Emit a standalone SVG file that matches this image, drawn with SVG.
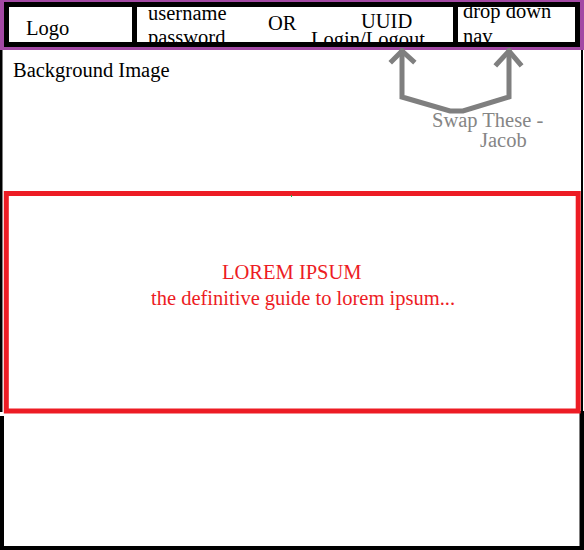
<svg xmlns="http://www.w3.org/2000/svg" width="584" height="550" viewBox="0 0 584 550">
<style>
  text { font-family: "Liberation Serif", "Times New Roman", serif; font-size: 20.5px; }
  .blk { fill: #000; }
  .gray { fill: #858585; }
  .red { fill: #ed1c24; }
  .cell { fill: #fff; }
  .arrow { fill: none; stroke: #7f7f7f; stroke-width: 5; stroke-linecap: square; stroke-linejoin: miter; }
</style>
<defs>
  <clipPath id="c1"><rect x="9" y="7" width="123" height="35"/></clipPath>
  <clipPath id="c2"><rect x="137" y="7" width="316" height="35"/></clipPath>
  <clipPath id="c3"><rect x="458" y="7" width="117" height="35"/></clipPath>
</defs>
<rect x="0" y="0" width="584" height="550" fill="#fff"/>
<g id="page-frame">
  <rect x="0" y="50" width="2.5" height="362" class="blk"/>
  <rect x="0" y="416" width="4" height="134" class="blk"/>
  <rect x="581" y="48" width="2" height="364" class="blk"/>
  <rect x="579.5" y="411" width="4.5" height="139" class="blk"/>
  <rect x="0" y="546" width="584" height="4" class="blk"/>
</g>
<g id="header">
  <rect x="0" y="0" width="584" height="50" fill="#a349a4"/>
  <rect x="4" y="2" width="576" height="45" class="blk"/>
</g>
<g id="logo">
  <rect x="9" y="7" width="123" height="35" class="cell"/>
  <g clip-path="url(#c1)"><text x="26" y="35" class="blk">Logo</text></g>
</g>
<g id="login">
  <rect x="137" y="7" width="316" height="35" class="cell"/>
  <g clip-path="url(#c2)">
    <text x="148" y="20" class="blk">username</text>
    <text x="148" y="43.5" class="blk">password</text>
    <text x="268" y="30" class="blk">OR</text>
    <text x="361" y="28" class="blk">UUID</text>
    <text x="311" y="45.5" class="blk">Login/Logout</text>
  </g>
</g>
<g id="nav">
  <rect x="458" y="7" width="117" height="35" class="cell"/>
  <g clip-path="url(#c3)">
    <text x="463" y="18" class="blk">drop down</text>
    <text x="463" y="42.5" class="blk">nav</text>
  </g>
</g>
<g id="background-label">
  <text x="13" y="77" class="blk">Background Image</text>
</g>
<g id="connectors">
  <path class="arrow" d="M402,51 L402,97 L450,111 L463,111 L509,97 L509,51"/>
  <path class="arrow" d="M392,61 L402,51 L413,61"/>
  <path class="arrow" d="M497,64 L509,51 L520,64"/>
</g>
<g id="swap-note">
  <text x="432" y="127" class="gray">Swap These -</text>
  <text x="480" y="147" class="gray">Jacob</text>
</g>
<g id="hero">
  <rect x="6.3" y="193.5" width="571.9" height="217.5" fill="#fff" stroke="#ed1c24" stroke-width="5"/>
  <rect x="291" y="195" width="1" height="2" fill="#22b14c"/>
  <text x="222" y="279" class="red">LOREM IPSUM</text>
  <text x="151" y="305" class="red">the definitive guide to lorem ipsum...</text>
</g>
</svg>
